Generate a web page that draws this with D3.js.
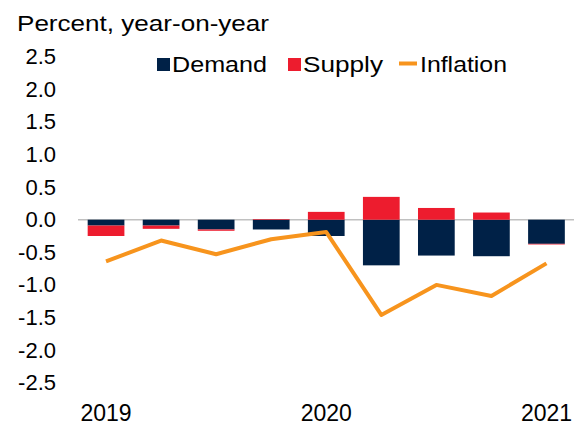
<!DOCTYPE html>
<meta charset="utf-8">
<style>
body { margin: 0; background: #fff; }
text { font-family: "Liberation Sans", Arial, sans-serif; fill: #000; }
</style>
<body>
<div id="chart"></div>
<script src="https://d3js.org/d3.v7.min.js"></script>
<script>

var width = 574,
    height = 426;

// data
var quarters = ["2019Q1","2019Q2","2019Q3","2019Q4","2020Q1","2020Q2","2020Q3","2020Q4","2021Q1"];
var demand = [-0.09, -0.09, -0.15, -0.15, -0.25, -0.70, -0.55, -0.56, -0.37];
var supply = [-0.16, -0.05, -0.02, 0.01, 0.12, 0.35, 0.18, 0.11, -0.01];
var inflation = [-0.64, -0.32, -0.53, -0.30, -0.19, -1.46, -1.00, -1.17, -0.67];
var yTicks = [-2.5, -2, -1.5, -1, -0.5, 0, 0.5, 1, 1.5, 2, 2.5];
var yearTicks = ["2019Q1", "2020Q1", "2021Q1"];
var yearLabels = ["2019", "2020", "2021"];

var colors = { demand: "#002147", supply: "#ed1c2e", inflation: "#f7941d" };

var svg = d3.select("#chart").append("svg")
    .attr("width", width)
    .attr("height", height);

var x = d3.scaleBand()
    .domain(quarters)
    .range([78.5, 574])
    .paddingInner(0.333)
    .paddingOuter(0.1667);

var y = d3.scaleLinear()
    .domain([-2.5, 2.5])
    .range([382.7, 56.7]);

// title
svg.append("text")
    .attr("x", 17)
    .attr("y", 31)
    .attr("textLength", 252)
    .attr("lengthAdjust", "spacingAndGlyphs")
    .style("font-size", "22px")
    .text("Percent, year-on-year");

// y axis labels
var yAxis = svg.append("g")
    .attr("transform", "translate(56,0)")
    .call(d3.axisLeft(y).tickValues(yTicks).tickSize(0).tickPadding(0)
      .tickFormat(d => d.toFixed(1)));
yAxis.select(".domain").remove();
yAxis.selectAll("text")
    .attr("font-family", null)
    .style("font-size", "22px");
yAxis.attr("font-family", null).attr("font-size", null);

// x axis labels
var xAxis = svg.append("g")
    .attr("transform", "translate(0,395)")
    .call(d3.axisBottom(x).tickValues(yearTicks).tickSize(0).tickPadding(0)
      .tickFormat(d => yearLabels[yearTicks.indexOf(d)]));
xAxis.select(".domain").remove();
xAxis.attr("font-family", null).attr("font-size", null);
xAxis.selectAll("text")
    .attr("dy", null)
    .attr("y", 26)
    .style("font-size", "23px");

// zero line
svg.append("line")
    .attr("x1", 78)
    .attr("x2", 574)
    .attr("y1", y(0))
    .attr("y2", y(0))
    .attr("stroke", "#c0c0c0")
    .attr("stroke-width", 1.5);

// stacked bars (diverging)
var rows = quarters.map((q, i) => ({ q: q, demand: demand[i], supply: supply[i] }));
var series = d3.stack()
    .keys(["demand", "supply"])
    .offset(d3.stackOffsetDiverging)(rows);

svg.append("g")
  .selectAll("g")
  .data(series)
  .join("g")
    .attr("fill", d => colors[d.key])
  .selectAll("rect")
  .data(d => d)
  .join("rect")
    .attr("x", d => x(d.data.q))
    .attr("width", x.bandwidth())
    .attr("y", d => y(Math.max(d[0], d[1])))
    .attr("height", d => Math.abs(y(d[0]) - y(d[1])));

// inflation line
var line = d3.line()
    .x((d, i) => x(quarters[i]) + x.bandwidth() / 2)
    .y(d => y(d));

svg.append("path")
    .datum(inflation)
    .attr("fill", "none")
    .attr("stroke", colors.inflation)
    .attr("stroke-width", 4)
    .attr("stroke-linejoin", "round")
    .attr("d", line);

// legend
var legend = svg.append("g").attr("transform", "translate(0,0)");

legend.append("rect").attr("x", 157).attr("y", 58).attr("width", 13).attr("height", 13).attr("fill", colors.demand);
legend.append("text").attr("x", 172).attr("y", 72).attr("textLength", 95).attr("lengthAdjust", "spacingAndGlyphs")
    .style("font-size", "22px").text("Demand");

legend.append("rect").attr("x", 288).attr("y", 58).attr("width", 13).attr("height", 13).attr("fill", colors.supply);
legend.append("text").attr("x", 303).attr("y", 72).attr("textLength", 80).attr("lengthAdjust", "spacingAndGlyphs")
    .style("font-size", "22px").text("Supply");

legend.append("line").attr("x1", 399).attr("x2", 417).attr("y1", 63.5).attr("y2", 63.5)
    .attr("stroke", colors.inflation).attr("stroke-width", 4);
legend.append("text").attr("x", 420).attr("y", 72).attr("textLength", 87).attr("lengthAdjust", "spacingAndGlyphs")
    .style("font-size", "22px").text("Inflation");

</script>
